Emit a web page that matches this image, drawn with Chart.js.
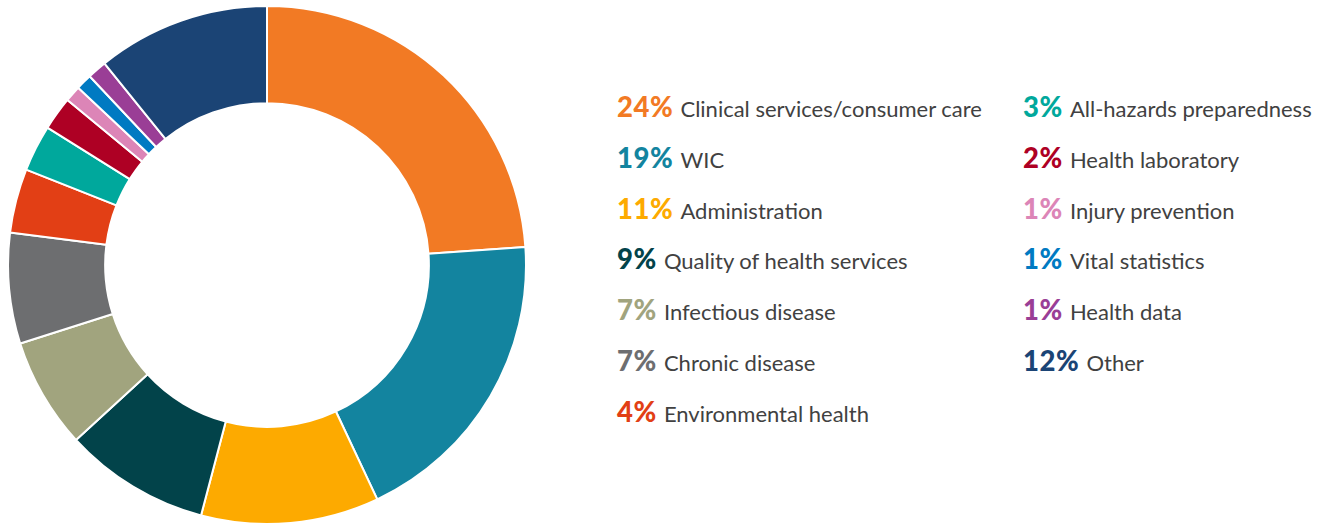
<!DOCTYPE html>
<html>
<head>
<meta charset="utf-8">
<script src="https://cdn.jsdelivr.net/npm/chart.js@4/dist/chart.umd.min.js"></script>
<style>
  html, body { margin: 0; padding: 0; background: #fff; }
  body { width: 1327px; height: 525px; position: relative; overflow: hidden; font-family: "Lato", "DejaVu Sans", sans-serif; }
  #wrap { position: absolute; left: 7px; top: 5px; width: 520px; height: 520px; }
  .item { position: absolute; white-space: nowrap; display: flex; align-items: baseline; }
  .pct { font-weight: 900; font-size: 27.5px; letter-spacing: 0.6px; margin-right: 7px; }
  .lab { font-size: 22px; color: #414141; }
</style>
</head>
<body>
<div id="wrap"><canvas id="c"></canvas></div>
<div id="legend"></div>
<script>
const categories = [
  "Clinical services/consumer care", "WIC", "Administration", "Quality of health services",
  "Infectious disease", "Chronic disease", "Environmental health", "All-hazards preparedness",
  "Health laboratory", "Injury prevention", "Vital statistics", "Health data", "Other"
];
// slice sizes (percent of the ring)
const values = [23.9, 19.1, 11.1, 9.1, 6.9, 6.9, 4.0, 2.9, 2.1, 1.0, 1.0, 1.2, 10.8];
// rounded percentages printed in the legend
const pctLabels = ["24%", "19%", "11%", "9%", "7%", "7%", "4%", "3%", "2%", "1%", "1%", "1%", "12%"];
const colors = [
  "#F27A24", "#13849F", "#FDAA00", "#02434A", "#A1A47E", "#6D6E70", "#E23F15",
  "#00A89C", "#AE0024", "#DC85B7", "#007AC2", "#9A3E96", "#1B4475"
];

new Chart(document.getElementById('c'), {
  type: 'doughnut',
  data: {
    labels: categories,
    datasets: [{
      data: values,
      backgroundColor: colors,
      borderColor: '#ffffff',
      borderWidth: 2,
      hoverOffset: 0
    }]
  },
  options: {
    responsive: true,
    maintainAspectRatio: false,
    animation: false,
    cutout: '62.5%',
    layout: { padding: 0 },
    plugins: { legend: { display: false }, tooltip: { enabled: false } }
  }
});

const legend = document.getElementById('legend');
const colX = [617, 1023];
const rowTop = 90, rowStep = 50.8;
categories.forEach((cat, i) => {
  const col = i < 7 ? 0 : 1;
  const row = i < 7 ? i : i - 7;
  const d = document.createElement('div');
  d.className = 'item';
  d.style.left = colX[col] + 'px';
  d.style.top = (rowTop + row * rowStep) + 'px';
  const p = document.createElement('span');
  p.className = 'pct';
  p.style.color = colors[i];
  p.textContent = pctLabels[i];
  const l = document.createElement('span');
  l.className = 'lab';
  l.textContent = cat;
  d.appendChild(p); d.appendChild(l);
  legend.appendChild(d);
});
</script>
</body>
</html>
